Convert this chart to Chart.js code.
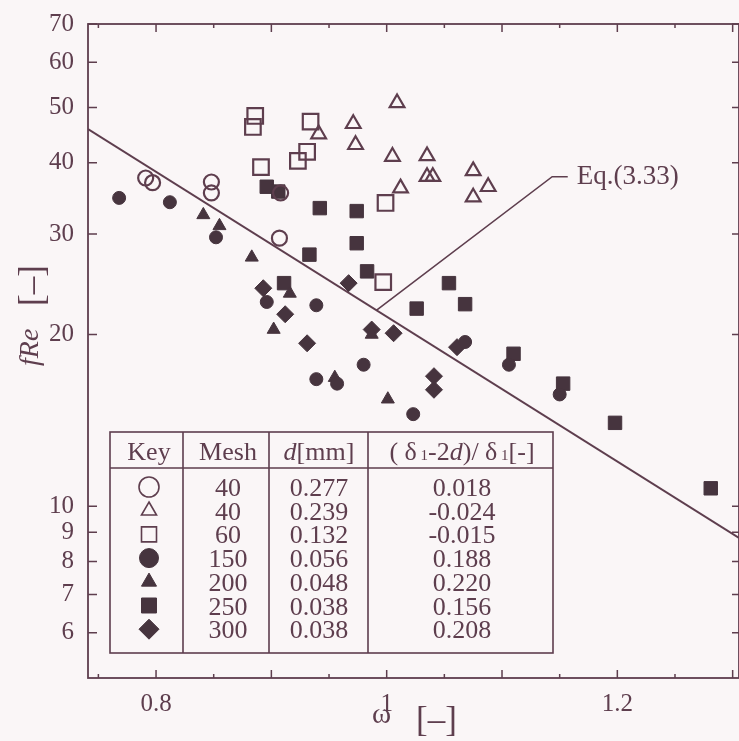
<!DOCTYPE html>
<html lang="en">
<head>
    <meta charset="UTF-8">
    <title>fRe vs omega</title>
    <script src="https://cdn.jsdelivr.net/npm/chart.js"></script>
    <style>
        html, body { margin: 0; padding: 0; background: #faf6f7; }
        canvas { display: block; }
    </style>
</head>
<body>
    <canvas id="chart" width="739" height="741"></canvas>
    <script>
        // data: omega [-] vs fRe [-]
        const omegaOpenCircle = [0.791, 0.797, 0.848, 0.848, 0.907, 0.908];
        const fReOpenCircle = [37.6, 36.9, 37.0, 35.4, 29.5, 35.4];

        const omegaOpenTriangle = [0.941, 0.971, 0.973, 1.009, 1.005, 1.012, 1.035, 1.035, 1.040, 1.075, 1.088, 1.075];
        const fReOpenTriangle = [44.9, 46.8, 43.0, 50.9, 41.0, 36.1, 41.1, 37.8, 37.8, 38.7, 36.3, 34.8];

        const omegaOpenSquare = [0.886, 0.884, 0.934, 0.931, 0.923, 0.891, 0.999, 0.997];
        const fReOpenSquare = [48.3, 46.2, 47.2, 41.8, 40.3, 39.3, 34.0, 24.7];

        const omegaCircle = [0.768, 0.812, 0.852, 0.896, 0.939, 0.939, 0.957, 0.980, 1.023, 1.068, 1.106, 1.150];
        const fReCircle = [34.7, 34.1, 29.6, 22.8, 22.5, 16.7, 16.4, 17.7, 14.5, 19.4, 17.7, 15.7];

        const omegaTriangle = [0.841, 0.855, 0.883, 0.916, 0.902, 0.955, 0.987, 1.001];
        const fReTriangle = [32.4, 31.0, 27.3, 23.6, 20.4, 16.8, 20.0, 15.4];

        const omegaSquare = [0.896, 0.906, 0.942, 0.974, 0.974, 0.933, 0.911, 0.983, 1.026, 1.054, 1.068, 1.110, 1.153, 1.198, 1.281];
        const fReSquare = [36.3, 35.6, 33.3, 32.9, 28.9, 27.6, 24.6, 25.8, 22.2, 24.6, 22.6, 18.5, 16.4, 14.0, 10.75];

        const omegaDiamond = [0.893, 0.912, 0.931, 0.967, 0.987, 1.006, 1.041, 1.041, 1.061];
        const fReDiamond = [24.1, 21.7, 19.3, 24.6, 20.4, 20.1, 16.9, 16.0, 19.0];

        // Eq.(3.33) line and its label leader
        const omegaEq = [0.741, 1.3055];
        const fReEq = [45.8, 8.8];
        const omegaLeader = [0.991, 1.1435, 1.157];
        const fReLeader = [22.05, 37.8, 37.8];
        const eqLabel = 'Eq.(3.33)';

        // axis ticks
        const xTickLabels = [0.8, 1, 1.2];
        const xMajorTicks = [0.8, 0.9, 1.0, 1.1, 1.2, 1.3];
        const xMinorTicks = [0.75, 0.85, 0.95, 1.05, 1.15, 1.25];
        const yTickLabels = [6, 7, 8, 9, 10, 20, 30, 40, 50, 60, 70];

        // key table
        const meshLabels = ['40', '40', '60', '150', '200', '250', '300'];
        const dLabels = ['0.277', '0.239', '0.132', '0.056', '0.048', '0.038', '0.038'];
        const ratioLabels = ['0.018', '-0.024', '-0.015', '0.188', '0.220', '0.156', '0.208'];

        const SERIF = '"Liberation Serif", "DejaVu Serif", serif';
        const INK = '#5e3e4e';
        const DARK = '#46343e';
        const BG = '#faf6f7';

        const toPoints = (xs, ys) => xs.map((x, i) => ({ x: x, y: ys[i] }));

        const markerStyles = [
            { pointStyle: 'circle', radius: 7.5, fill: false, keyRadius: 10 },
            { pointStyle: 'triangle', radius: 8.5, fill: false, keyRadius: 8.7 },
            { pointStyle: 'rect', radius: 11, fill: false, keyRadius: 10.6 },
            { pointStyle: 'circle', radius: 6.5, fill: true, keyRadius: 9.5 },
            { pointStyle: 'triangle', radius: 7.5, fill: true, keyRadius: 8.7 },
            { pointStyle: 'rect', radius: 9.5, fill: true, keyRadius: 10.6 },
            { pointStyle: 'rectRot', radius: 8.5, fill: true, keyRadius: 10 }
        ];

        const series = [
            toPoints(omegaOpenCircle, fReOpenCircle),
            toPoints(omegaOpenTriangle, fReOpenTriangle),
            toPoints(omegaOpenSquare, fReOpenSquare),
            toPoints(omegaCircle, fReCircle),
            toPoints(omegaTriangle, fReTriangle),
            toPoints(omegaSquare, fReSquare),
            toPoints(omegaDiamond, fReDiamond)
        ];

        const scatterSets = series.map((pts, i) => {
            const s = markerStyles[i];
            return {
                label: 'Mesh ' + meshLabels[i],
                data: pts,
                showLine: false,
                pointStyle: s.pointStyle,
                pointRadius: s.radius,
                pointBackgroundColor: s.fill ? DARK : 'rgba(0,0,0,0)',
                pointBorderColor: s.fill ? DARK : INK,
                pointBorderWidth: s.fill ? 1 : 2.2
            };
        });

        const lineSets = [
            {
                label: 'Eq.(3.33)',
                data: toPoints(omegaEq, fReEq),
                showLine: true,
                borderColor: INK,
                borderWidth: 2,
                pointRadius: 0
            },
            {
                label: 'leader',
                data: toPoints(omegaLeader, fReLeader),
                showLine: true,
                borderColor: INK,
                borderWidth: 1.6,
                pointRadius: 0
            }
        ];

        // ticks inward, box, axis titles, key table, equation label
        const decor = {
            id: 'decor',
            afterDatasetsDraw(chart) {
                const ctx = chart.ctx;
                const a = chart.chartArea;
                const xs = chart.scales.x;
                const ys = chart.scales.y;
                ctx.save();
                ctx.strokeStyle = INK;
                ctx.fillStyle = INK;

                ctx.lineWidth = 1.8;
                ctx.strokeRect(a.left, a.top, a.right - a.left, a.bottom - a.top);

                ctx.lineWidth = 1.5;
                ctx.beginPath();
                const xTick = (v, len) => {
                    const px = xs.getPixelForValue(v);
                    ctx.moveTo(px, a.bottom); ctx.lineTo(px, a.bottom - len);
                    ctx.moveTo(px, a.top); ctx.lineTo(px, a.top + len);
                };
                xMajorTicks.forEach(v => xTick(v, 8));
                xMinorTicks.forEach(v => xTick(v, 4));
                yTickLabels.forEach(v => {
                    const py = ys.getPixelForValue(v);
                    ctx.moveTo(a.left, py); ctx.lineTo(a.left + 9, py);
                    ctx.moveTo(a.right, py); ctx.lineTo(a.right - 7, py);
                });
                ctx.stroke();

                // equation label
                ctx.font = '27px ' + SERIF;
                ctx.textAlign = 'left';
                ctx.textBaseline = 'alphabetic';
                const lx = xs.getPixelForValue(omegaLeader[omegaLeader.length - 1]);
                const ly = ys.getPixelForValue(fReLeader[fReLeader.length - 1]);
                ctx.fillText(eqLabel, lx + 9, ly + 7);

                // x title
                ctx.font = '29px ' + SERIF;
                ctx.fillText('\u03c9', 372, 723);
                ctx.font = '35px ' + SERIF;
                ctx.fillText('[\u2013]', 416, 731);

                // y title (rotated)
                ctx.save();
                ctx.translate(38, 0);
                ctx.rotate(-Math.PI / 2);
                ctx.font = 'italic 28px ' + SERIF;
                ctx.fillText('fRe', -366, 0);
                ctx.font = '35px ' + SERIF;
                ctx.fillText('[\u2013]', -306, 5);
                ctx.restore();

                // key table
                const tL = 110, tR = 553, tT = 432, tH = 468, tB = 653;
                const cols = [183, 269, 368];
                ctx.fillStyle = BG;
                ctx.fillRect(tL, tT, tR - tL, tB - tT);
                ctx.fillStyle = INK;
                ctx.lineWidth = 1.6;
                ctx.strokeRect(tL, tT, tR - tL, tB - tT);
                ctx.beginPath();
                ctx.moveTo(tL, tH); ctx.lineTo(tR, tH);
                cols.forEach(c => { ctx.moveTo(c, tT); ctx.lineTo(c, tB); });
                ctx.stroke();

                const cKey = 149, cMesh = 228, cD = 319, cRatio = 462;
                const headBase = 460;
                ctx.textAlign = 'center';
                ctx.font = '26px ' + SERIF;
                ctx.fillText('Key', cKey, headBase);
                ctx.fillText('Mesh', cMesh, headBase);

                // mixed-font header runs
                ctx.textAlign = 'left';
                const drawRun = (parts, cx, base) => {
                    let w = 0;
                    parts.forEach(p => { ctx.font = p.f; w += ctx.measureText(p.t).width; });
                    let x = cx - w / 2;
                    parts.forEach(p => { ctx.font = p.f; ctx.fillText(p.t, x, base); x += ctx.measureText(p.t).width; });
                };
                const fN = '26px ' + SERIF, fI = 'italic 26px ' + SERIF, fS = '15px ' + SERIF;
                drawRun([{ t: 'd', f: fI }, { t: '[mm]', f: fN }], cD, headBase);
                drawRun([
                    { t: '( ', f: fN }, { t: '\u03b4', f: fN }, { t: ' 1', f: fS }, { t: '-2', f: fN },
                    { t: 'd', f: fI }, { t: ')/ ', f: fN }, { t: '\u03b4', f: fN }, { t: ' 1', f: fS },
                    { t: '[-]', f: fN }
                ], cRatio, headBase);

                ctx.textAlign = 'center';
                ctx.font = fN;
                const rowBase = 496, rowStep = 23.7;
                meshLabels.forEach((m, i) => {
                    const b = rowBase + i * rowStep;
                    ctx.fillText(m, cMesh, b);
                    ctx.fillText(dLabels[i], cD, b);
                    ctx.fillText(ratioLabels[i], cRatio, b);
                    const s = markerStyles[i];
                    ctx.save();
                    ctx.lineWidth = s.fill ? 1 : 1.6;
                    ctx.strokeStyle = s.fill ? DARK : INK;
                    ctx.fillStyle = s.fill ? DARK : 'rgba(0,0,0,0)';
                    Chart.helpers.drawPoint(ctx, {
                        pointStyle: s.pointStyle, radius: s.keyRadius, rotation: 0, borderWidth: ctx.lineWidth
                    }, cKey, b - 9);
                    ctx.restore();
                });

                ctx.restore();
            }
        };

        document.addEventListener('DOMContentLoaded', () => {
            new Chart(document.getElementById('chart'), {
                type: 'scatter',
                data: { datasets: scatterSets.concat(lineSets) },
                options: {
                    responsive: false,
                    animation: false,
                    layout: { autoPadding: false, padding: { top: 24, right: 0, left: 0, bottom: 0 } },
                    plugins: {
                        legend: { display: false },
                        tooltip: { enabled: false }
                    },
                    scales: {
                        x: {
                            type: 'linear',
                            min: 0.741,
                            max: 1.3055,
                            grid: { display: false },
                            border: { display: false },
                            afterBuildTicks: (s) => { s.ticks = xTickLabels.map(v => ({ value: v })); },
                            afterFit: (s) => { s.height = 63; },
                            ticks: {
                                color: INK,
                                padding: 3,
                                font: { family: SERIF, size: 25 },
                                callback: (v) => String(v)
                            }
                        },
                        y: {
                            type: 'logarithmic',
                            min: 5,
                            max: 70,
                            grid: { display: false },
                            border: { display: false },
                            afterBuildTicks: (s) => { s.ticks = yTickLabels.map(v => ({ value: v })); },
                            afterFit: (s) => { s.width = 88; },
                            ticks: {
                                color: INK,
                                padding: 6,
                                font: { family: SERIF, size: 25 },
                                callback: (v) => String(v)
                            }
                        }
                    }
                },
                plugins: [decor]
            });
        });
    </script>
</body>
</html>
